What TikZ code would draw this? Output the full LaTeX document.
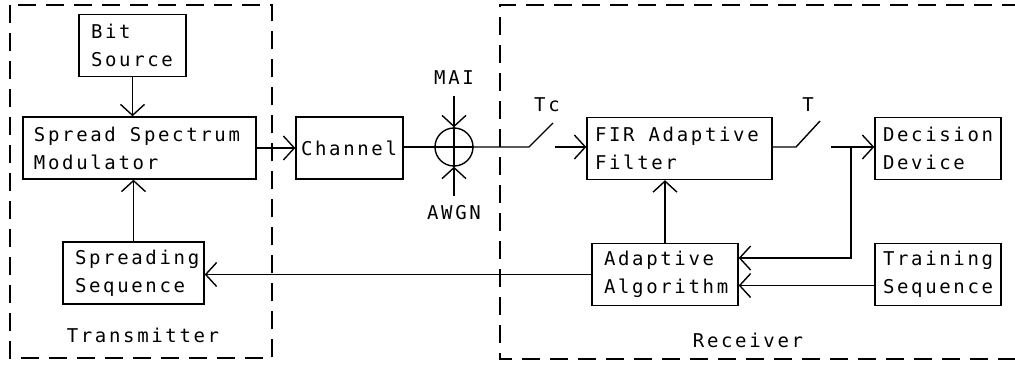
\documentclass[tikz,border=0pt]{standalone}
\usepackage{fontspec}
\newfontfamily\mono[LetterSpace=14]{DejaVu Sans Mono}
\newcommand{\wsp}{\hspace{14pt}}
\usetikzlibrary{positioning,arrows.meta,calc}

\begin{document}
\begin{tikzpicture}[
  x=1pt, y=-1pt,
  font=\mono\fontsize{19}{28}\selectfont,
  line width=1.4pt,
  blk/.style={draw, align=left, inner xsep=12pt, inner ysep=0pt, minimum height=62pt},
  sig/.style={-{Straight Barb[length=11pt,width=24pt]}},
  grp/.style={dash pattern=on 18pt off 10pt},
  lbl/.style={inner sep=0pt},
]
\useasboundingbox (0,0) rectangle (1015,367);
% ---------- Transmitter ----------
\node[blk, text width=83pt]  (bits) at (132.5,45.5) {Bit\\Source};
\node[blk, text width=211pt, inner xsep=11pt] (ssm) at (139.5,148) {Spread\wsp Spectrum\\Modulator};
\node[blk, text width=117pt] (sprd) at (133.5,273)  {Spreading\\Sequence};
\draw[sig] (bits.south) -- (bits.south |- ssm.north);
\draw[sig] (sprd.north) -- (sprd.north |- ssm.south);
\draw[grp] (10,5) rectangle (272,358);
\node[lbl] (tx) at (143,335) {Transmitter};
% ---------- Channel ----------
\node[blk, text width=97pt, inner xsep=5pt] (chan) at (349.5,148) {Channel};
\node[draw, circle, minimum size=38pt, inner sep=0pt] (sum) at (454,147) {};
\coordinate (mai)  at (454,96);
\coordinate (awgn) at (454,196);
\node[lbl] (mailbl)  at (454,78)  {MAI};
\node[lbl] (awgnlbl) at (454,213) {AWGN};
\draw[sig] (ssm.east |- chan.west) -- (chan.west);
\draw (chan.east |- sum.west) -- (sum.west);
\draw (sum.north) -- (sum.south) (sum.west) -- (sum.east);
\draw[sig] (mai) -- (sum.north);
\draw[sig] (awgn) -- (sum.south);
% ---------- Receiver ----------
\node[blk, text width=169pt, inner xsep=8pt] (fir) at (679.5,148.5) {FIR\wsp Adaptive\\Filter};
\node[blk, text width=110pt, inner xsep=8pt] (dec) at (938,148.5)   {Decision\\Device};
\node[blk, text width=122pt] (alg) at (665,274.5)   {Adaptive\\Algorithm};
\node[blk, text width=110pt, inner xsep=8pt] (trn) at (938,274.5)   {Training\\Sequence};
% sampling switches
\coordinate (tca) at (529,147); \coordinate (tcb) at (553,123); \coordinate (tcc) at (555,147);
\coordinate (ta)  at (796,147); \coordinate (tb)  at (820,121); \coordinate (tc)  at (831,147);
\coordinate (jn)  at (851,147); \coordinate (fb)  at (851,258);
\node[lbl] (tclbl) at (547,105) {Tc};
\node[lbl] (tlbl)  at (808,105) {T};
\draw (sum.east) -- (tca) -- (tcb);
\draw[sig] (tcc) -- (tcc -| fir.west);
\draw (fir.east |- ta) -- (ta) -- (tb);
\draw[sig] (tc) -- (tc -| dec.west);
\draw[sig] (jn) -- (fb) -- (fb -| alg.east);
\draw[sig] ($(trn.west)+(0,11)$) -- ($(alg.east)+(0,11)$);
\draw[sig] (alg.north) -- (alg.north |- fir.south);
\draw[sig] (alg.west) -- (alg.west -| sprd.east);
\draw[grp] (1020,5) -- (500,5) -- (500,359) -- (1020,359);
\node[lbl] (rx) at (748,340) {Receiver};
\end{tikzpicture}
\end{document}
